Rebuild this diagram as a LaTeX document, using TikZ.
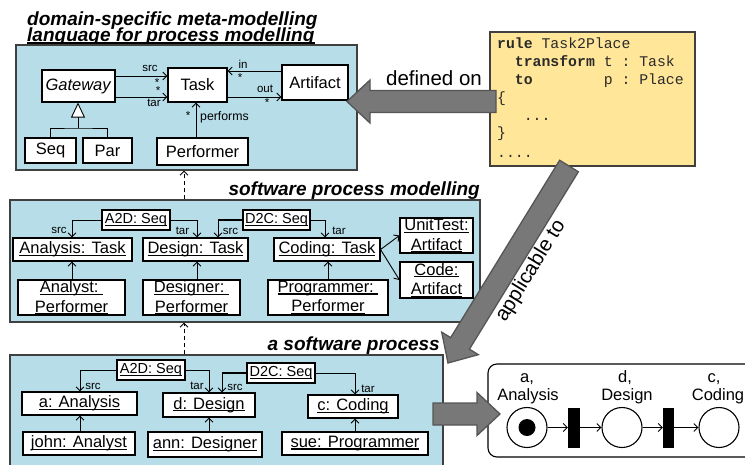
\documentclass[tikz,border=0pt]{standalone}
\usepackage{fontspec}
\setmainfont{Liberation Sans}
\setmonofont{Liberation Mono}
\usetikzlibrary{arrows.meta,calc}

\definecolor{panelblue}{HTML}{B7DDE8}
\definecolor{paneledge}{HTML}{404040}
\definecolor{codeyellow}{HTML}{FFE699}
\definecolor{codetext}{HTML}{2A2A2A}
\definecolor{arrowgray}{HTML}{787878}
\definecolor{arrowedge}{HTML}{555555}

\newcommand\fsnode{\fontsize{16.5pt}{19.5pt}\selectfont}
\newcommand\fsseq{\fontsize{14.5pt}{17pt}\selectfont}
\newcommand\fslbl{\fontsize{11.5pt}{13pt}\selectfont}
\newcommand\fsperf{\fontsize{12.3pt}{14pt}\selectfont}
\newcommand\fsttl{\fontsize{19pt}{22pt}\selectfont\bfseries\itshape}
\newcommand\fsbig{\fontsize{20.5pt}{24pt}\selectfont}
\newcommand\fscode{\fontsize{14.8pt}{18pt}\selectfont\ttfamily}

% underlined object name, rule just below the baseline
\newcommand\ulx[1]{\setbox0\hbox{#1}\rlap{\rule[-2.2pt]{\wd0}{1.2pt}}\box0}

% broad block arrow from tail #1 to tip #2
\newcommand\fatarrow[2]{%
  \filldraw[fatarrow]
    ($(#1)!11pt!90:(#2)$) --
    ($(#2)!23pt!(#1)!11pt!90:(#2)$) --
    ($(#2)!23pt!(#1)!21.5pt!90:(#2)$) --
    (#2) --
    ($(#2)!23pt!(#1)!21.5pt!-90:(#2)$) --
    ($(#2)!23pt!(#1)!11pt!-90:(#2)$) --
    ($(#1)!11pt!-90:(#2)$) -- cycle;}

\begin{document}
\begin{tikzpicture}[x=1pt,y=-1pt,
  sz/.style 2 args={minimum width=#1pt, minimum height=#2pt},
  box/.style={draw=black, line width=1.1pt, fill=white, inner sep=0pt, font=\fsnode, align=center},
  seqbox/.style={box, font=\fsseq},
  panel/.style={draw=paneledge, line width=1.2pt, fill=panelblue, inner sep=0pt},
  lbl/.style={font=\fslbl, inner sep=0pt},
  ttl/.style={font=\fsttl, inner sep=0pt},
  arr/.style={line width=0.9pt, -{Straight Barb[length=4pt,width=8pt]}},
  dasharr/.style={line width=0.9pt, dash pattern=on 4pt off 3pt, -{Straight Barb[length=4pt,width=8pt]}},
  codebox/.style={draw=paneledge, line width=1.1pt, fill=codeyellow, inner sep=0pt},
  codeln/.style={font=\fscode, text=codetext, inner sep=0pt, anchor=base west},
  fatarrow/.style={fill=arrowgray, draw=arrowedge, line width=1.3pt, line join=miter},
  place/.style={circle, draw=black, line width=1.1pt, fill=white, minimum size=40pt, inner sep=0pt},
  trans/.style={fill=black, inner sep=0pt, minimum width=12pt, minimum height=40pt},
  plbl/.style={font=\fsnode, inner sep=0pt, anchor=base},
]
\useasboundingbox (0,0) rectangle (745,464);
\clip (0,0) rectangle (745,464);

% ---------------- meta-model ----------------
\node[ttl, anchor=base west] (t1) at (27,25.5) {domain-specific meta-modelling};
\node[ttl, anchor=base west] (t2) at (27,41.5) {language for process modelling};
\draw[line width=1.3pt] ([yshift=-1.5pt]t2.base west) -- ([yshift=-1.5pt]t2.base east);
\node[panel, sz={341}{125}] (meta) at (186.5,107.5) {};

\node[box, sz={73}{32}] (gw) at (78.5,86) {\textit{Gateway}};
\node[box, sz={59}{34}] (task) at (197.5,85) {Task};
\node[box, sz={66}{35}] (art) at (315,82.5) {Artifact};
\node[box, sz={51}{25}] (seq) at (50.5,150.5) {Seq};
\node[box, sz={49}{25}] (par) at (107.5,150.5) {Par};
\node[box, sz={91}{27}] (perf) at (202.5,151.5) {Performer};

\coordinate (ysrc) at (0,76);
\coordinate (ytar) at (0,97);
\coordinate (yin) at (0,71);
\coordinate (yout) at (0,97);
\coordinate (xperf) at (196,0);
\draw[arr] (gw.east |- ysrc) -- (task.west |- ysrc);
\draw[arr] (gw.east |- ytar) -- (task.west |- ytar);
\draw[arr] (art.west |- yin) -- (task.east |- yin);
\draw[arr] (task.east |- yout) -- (art.west |- yout);
\draw[arr] (perf.north -| xperf) -- (task.south -| xperf);

\node[lbl] (lsrc) at (150,68) {src};
\node[lbl] (lsrcm) at (157,83) {*};
\node[lbl] (ltarm) at (158,91) {*};
\node[lbl] (ltar) at (154,103) {tar};
\node[lbl] (lin) at (243,64.5) {in};
\node[lbl] (linm) at (240,78) {*};
\node[lbl] (lout) at (265,89) {out};
\node[lbl] (loutm) at (267,103) {*};
\node[lbl] (lperfm) at (188,116) {*};
\node[lbl, font=\fsperf, anchor=west] (lperf) at (200,117) {performs};

\coordinate (inhj) at (78,128);
\draw[line width=0.9pt] (seq.north) |- (inhj) -| (par.north);
\draw[line width=0.9pt, -{Triangle[fill=white, length=15pt, width=14pt, line width=0.9pt]}] (inhj) -- (inhj |- gw.south);

% ---------------- process model ----------------
\node[panel, sz={470}{122}] (model) at (245,261) {};
\node[ttl, anchor=base east] (t3) at (480,195.5) {software process modelling};

\node[seqbox, sz={68}{20}] (ma2d) at (136,220) {\ulx{A2D: Seq}};
\node[seqbox, sz={67}{20}] (md2c) at (276.5,220) {\ulx{D2C: Seq}};
\node[box, sz={119}{23}] (mana) at (72.5,249.5) {\ulx{Analysis: Task}};
\node[box, sz={105}{23}] (mdes) at (195.5,249.5) {\ulx{Design: Task}};
\node[box, sz={106}{23}] (mcod) at (327,249.5) {\ulx{Coding: Task}};
\node[box, sz={73}{35}] (munit) at (436.5,235.5) {\ulx{UnitTest:}\\\ulx{Artifact}};
\node[box, sz={73}{36}] (mcode) at (436.5,280) {\ulx{Code:}\\\ulx{Artifact}};
\node[box, sz={107}{35}] (mperfa) at (71.5,297.5) {\ulx{Analyst:~}\\\ulx{Performer}};
\node[box, sz={97}{35}] (mperfd) at (191.5,297.5) {\ulx{Designer:~}\\\ulx{Performer}};
\node[box, sz={120}{35}] (mperfc) at (328,297.5) {\ulx{Programmer:~}\\\ulx{Performer}};

\coordinate (xma) at (72,0);
\coordinate (xmdt) at (197,0);
\coordinate (xmds) at (218,0);
\coordinate (xmct) at (325,0);
\coordinate (xmcp) at (328,0);
\draw[arr] (ma2d.west) -| (mana.north -| xma);
\draw[arr] (ma2d.east) -| (mdes.north -| xmdt);
\draw[line width=2pt] (md2c.west) -- (md2c.west -| xmds);
\draw[arr] (md2c.west) -| (mdes.north -| xmds);
\draw[arr] (md2c.east) -| (mcod.north -| xmct);
\draw[arr] (mcod.east) -- (munit.west);
\draw[arr] (mcod.east) -- (mcode.west);
\draw[arr] (mperfa.north -| xma) -- (mana.south -| xma);
\draw[arr] (mperfd.north -| xmdt) -- (mdes.south -| xmdt);
\draw[arr] (mperfc.north -| xmcp) -- (mcod.south -| xmcp);

\node[lbl] (msrc1) at (59,230.5) {src};
\node[lbl] (mtar1) at (182.5,230.5) {tar};
\node[lbl] (msrc2) at (230.5,231) {src};
\node[lbl] (mtar2) at (339,230.5) {tar};

% ---------------- process instance ----------------
\node[panel, sz={433}{120}] (inst) at (226.5,415) {};
\node[ttl, anchor=base east] (t4) at (440,350.5) {a software process};

\node[seqbox, sz={68}{20}] (ba2d) at (151,370) {\ulx{A2D: Seq}};
\node[seqbox, sz={68}{20}] (bd2c) at (281,373) {\ulx{D2C: Seq}};
\node[box, sz={115}{23}] (bana) at (79.5,403.5) {\ulx{a: Analysis}};
\node[box, sz={92}{24}] (bdes) at (209,405) {\ulx{d: Design}};
\node[box, sz={90}{23}] (bcod) at (353,406.5) {\ulx{c: Coding}};
\node[box, sz={112}{23}] (bjohn) at (79,443.5) {\ulx{john: Analyst}};
\node[box, sz={114}{25}] (bann) at (205,444.5) {\ulx{ann: Designer}};
\node[box, sz={146}{23}] (bsue) at (355,443.5) {\ulx{sue: Programmer}};

\coordinate (xba) at (80,0);
\coordinate (xbdt) at (209,0);
\coordinate (xbds) at (222,0);
\coordinate (xbct) at (355,0);
\draw[arr] (ba2d.west) -| (bana.north -| xba);
\draw[arr] (ba2d.east) -| (bdes.north -| xbdt);
\draw[line width=2pt] (bd2c.west) -- (bd2c.west -| xbds);
\draw[arr] (bd2c.west) -| (bdes.north -| xbds);
\draw[arr] (bd2c.east) -| (bcod.north -| xbct);
\draw[arr] (bjohn.north -| xba) -- (bana.south -| xba);
\draw[arr] (bann.north -| xbdt) -- (bdes.south -| xbdt);
\draw[arr] (bsue.north -| xbct) -- (bcod.south -| xbct);

\node[lbl] (bsrc1) at (93,386) {src};
\node[lbl] (btar1) at (197,386) {tar};
\node[lbl] (bsrc2) at (235,387) {src};
\node[lbl] (btar2) at (368,389) {tar};

% instance-of links between the levels
\coordinate (xdash) at (184,0);
\draw[dasharr] (inst.north -| xdash) -- (model.south -| xdash);
\draw[dasharr] (model.north -| xdash) -- (meta.south -| xdash);

% ---------------- transformation rule ----------------
\node[codebox, sz={205}{134}] (code) at (592.5,99) {};
\node[codeln] (cl1) at (497,48) {\textbf{rule} Task2Place};
\node[codeln] (cl2) at (497,66.5) {~~\textbf{transform} t : Task};
\node[codeln] (cl3) at (497,84) {~~\textbf{to}~~~~~~~~p : Place};
\node[codeln] (cl4) at (497,102) {\{};
\node[codeln] (cl5) at (497,120) {~~~...};
\node[codeln] (cl6) at (497,137.5) {\}};
\node[codeln] (cl7) at (497,157) {....};

% ---------------- Petri net ----------------
\node[draw=black, line width=1.1pt, rounded corners=9pt, sz={272}{93}, inner sep=0pt] (petri) at (624,410.5) {};
\node[place] (pa) at (527,427.5) {};
\node[circle, fill=black, minimum size=17pt, inner sep=0pt] (tok) at (pa) {};
\node[trans] (tr1) at (574,427.5) {};
\node[place] (pd) at (622,427.5) {};
\node[trans, minimum width=11pt] (tr2) at (668.5,427.5) {};
\node[place] (pc) at (719,427.5) {};
\draw[arr] (pa) -- (tr1);
\draw[arr] (tr1) -- (pd);
\draw[arr] (pd) -- (tr2);
\draw[arr] (tr2) -- (pc);
\node[plbl] (la1) at (527,382) {a,};
\node[plbl] (la2) at (528,400) {Analysis};
\node[plbl] (ld1) at (625,382) {d,};
\node[plbl] (ld2) at (627,400) {Design};
\node[plbl] (lc1) at (714,382) {c,};
\node[plbl] (lc2) at (718,400) {Coding};

% ---------------- block arrows ----------------
\coordinate (defT) at (496,101.5);
\coordinate (defH) at (347,101.5);
\coordinate (appT) at (569,166);
\coordinate (appH) at (448,363);
\coordinate (petT) at (433,414);
\coordinate (petH) at (500,414);
\fatarrow{defT}{defH}
\fatarrow{appT}{appH}
\fatarrow{petT}{petH}
\node[font=\fsbig, inner sep=0pt, anchor=base] (deflbl) at (434,85) {defined on};
\node[font=\fsbig, inner sep=0pt, rotate=58.4] (applbl) at (531,271) {applicable to};
\end{tikzpicture}
\end{document}
